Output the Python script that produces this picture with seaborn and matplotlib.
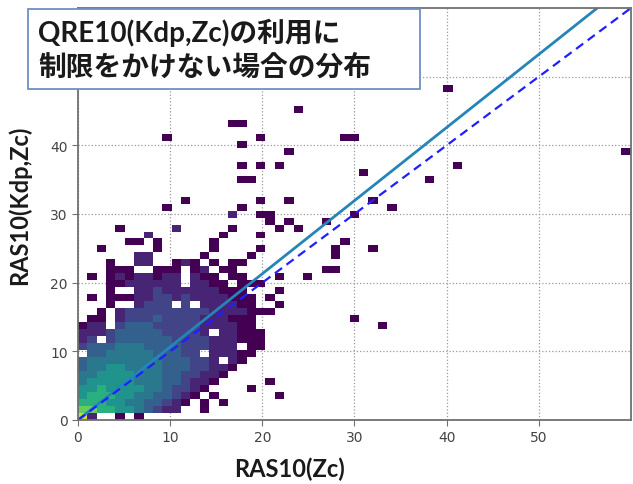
import numpy as np
import matplotlib
matplotlib.use('Agg')
import matplotlib.pyplot as plt
from matplotlib.colors import LogNorm
from matplotlib.patches import Rectangle
import seaborn as sns

sns.set_style('white')
plt.rcParams['font.family'] = ['Lato', 'Noto Sans CJK JP', 'DejaVu Sans']

# ---- data ----
# dense core: one char per cell, columns = x bins 0..21, rows = y bins 23 (top) .. 0 (bottom)
# '.' empty, '1'..'9' colour level (see level_counts)
core_rows = [
    "......22.....1....1...",  # 23
    "...1..22..121.1.11....",  # 22
    "...111..111.12.11.....",  # 21
    ".1.12122122.211.11...1",  # 20
    "...11222222.2211.111..",  # 19
    "...1..223222222111...1",  # 18
    ".1.1112233232222111.1.",  # 17
    "...1..2333.3.222211..1",  # 16
    "..1.23333333332222111.",  # 15
    ".11.233343333222111...",  # 14
    "122.344433333222211...",  # 13
    "22234444433332.22111..",  # 12
    "23.34444443333222111..",  # 11
    "34445554444333222.11..",  # 10
    ".445555544433.22211...",  # 9
    "455555555444332.21....",  # 8
    "45566555544433221.....",  # 7
    "5566665554433221......",  # 6
    "566666555443221.....1.",  # 5
    "66766665543321....1...",  # 4
    "6777665544321.1......1",  # 3
    "777665544321.1.1......",  # 2
    "88776654322..1........",  # 1
    "92..1.1...............",  # 0
]
level_counts = {'1': 1, '2': 2, '3': 4, '4': 8, '5': 16, '6': 35, '7': 80, '8': 200, '9': 600}

# scattered cells outside the core (RAS10(Zc), RAS10(Kdp,Zc), count)
out_x = [40.1, 23.9, 19.9, 29.0, 30.0, 22.8, 19.9, 21.8, 59.4, 41.1, 31.0, 38.1,
         19.9, 22.8, 32.0, 34.0, 30.0, 19.9, 20.8, 20.8, 22.8, 26.9, 21.8, 23.9,
         19.9, 29.0, 28.0, 28.0, 32.0, 26.9, 27.9, 24.9, 30.0, 33.0,
         16.8, 17.8, 9.7, 17.8, 17.8, 17.3, 18.3, 11.7, 9.7, 17.8, 16.7, 4.6,
         10.8, 7.6, 5.8, 6.8, 8.6, 8.6, 14.75, 14.75, 15.8, 16.7, 19.8, 2.5]
out_y = [48.3, 45.2, 41.1, 41.1, 41.1, 39.2, 37.1, 37.1, 39.2, 37.1, 36.1, 35.1,
         32.0, 32.0, 32.0, 31.0, 30.0, 30.0, 30.0, 28.9, 28.9, 28.9, 27.9, 27.9,
         27.0, 26.0, 25.3, 23.9, 25.3, 22.0, 22.0, 21.0, 14.7, 13.8,
         43.2, 43.2, 41.1, 40.2, 37.1, 35.1, 35.1, 32.0, 31.0, 31.0, 30.0, 27.9,
         27.9, 27.0, 26.0, 26.0, 26.0, 25.0, 26.0, 25.0, 27.0, 27.9, 25.3, 25.0]
out_w = [1, 1, 1, 1, 1, 1, 1, 1, 1, 1, 1, 1,
         1, 1, 1, 1, 1, 1, 1, 1, 1, 1, 1, 1,
         1, 1, 1, 1, 1, 1, 1, 1, 1, 1,
         1, 1, 1, 1, 1, 1, 1, 1, 1, 1, 2, 1,
         2, 2, 1, 1, 1, 1, 1, 1, 1, 1, 1, 1]

fit_slope, fit_intercept = 1.065, 0.0   # regression line (solid)
x_ticks = [0, 10, 20, 30, 40, 50]
y_ticks = [0, 10, 20, 30, 40, 50]
y_ticklabels = ['0', '10', '20', '30', '40', '']   # 50 sits under the title box
title_lines = ["QRE10(Kdp,Zc)の利用に", "制限をかけない場合の分布"]

# ---- build observations at bin centres ----
edges = np.linspace(0, 61, 61)
centers = (edges[:-1] + edges[1:]) / 2
xs, ys, ws = [], [], []
for j, row in enumerate(core_rows[::-1]):
    for k, ch in enumerate(row):
        if ch != '.':
            xs.append(centers[k]); ys.append(centers[j]); ws.append(level_counts[ch])
xs += out_x; ys += out_y; ws += out_w

fig = plt.figure(figsize=(6.33, 4.85), dpi=100)
ax = fig.add_axes([78/633, 64/485, 553/633, 412/485])

sns.histplot(x=xs, y=ys, weights=ws, bins=edges.tolist(), cmap='viridis',
             norm=LogNorm(vmin=1, vmax=1000), vmin=None, vmax=None, ax=ax)

line_x = np.array([0, 60])
ax.plot(line_x, fit_slope * line_x + fit_intercept, color='#2585b8', lw=2.0)
ax.plot(line_x, line_x, color='#1f1fff', lw=1.6, ls=(0, (4, 2.5)))

ax.set_xlim(0, 60); ax.set_ylim(0, 60)
ax.set_xticks(x_ticks); ax.set_yticks(y_ticks)
ax.set_yticklabels(y_ticklabels)
ax.grid(True, ls=':', color='#9a9a9a', lw=0.9)
ax.set_axisbelow(True)
for s in ax.spines.values():
    s.set_color('#707070'); s.set_linewidth(1.3)
ax.tick_params(direction='out', length=4, color='#707070', labelsize=10,
               labelcolor='#444444', bottom=True, left=True)
for lab in ax.get_xticklabels() + ax.get_yticklabels():
    lab.set_family('DejaVu Sans')
ax.set_xlabel('RAS10(Zc)', fontsize=17, fontweight='bold', color='#1a1a1a')
ax.set_ylabel('RAS10(Kdp,Zc)', fontsize=17, fontweight='bold', color='#1a1a1a')
ax.xaxis.set_label_coords((290 - 78) / 553, -37 / 412)
ax.yaxis.set_label_coords((31 - 78) / 553, (421 - 205) / 412)

# title box
fig.patches.append(Rectangle((28/633, 1 - 90/485), 392/633, 80/485, transform=fig.transFigure,
                             facecolor='white', edgecolor='#6f8fc4', lw=1.3, zorder=10))
fig.text(38/633, 1 - 33/485, title_lines[0], fontsize=20, fontweight='bold',
         va='center', ha='left', color='#1a1a1a', zorder=11)
fig.text(38/633, 1 - 68/485, title_lines[1], fontsize=20, fontweight='bold',
         va='center', ha='left', color='#1a1a1a', zorder=11)

fig.savefig('out.png', dpi=100)
